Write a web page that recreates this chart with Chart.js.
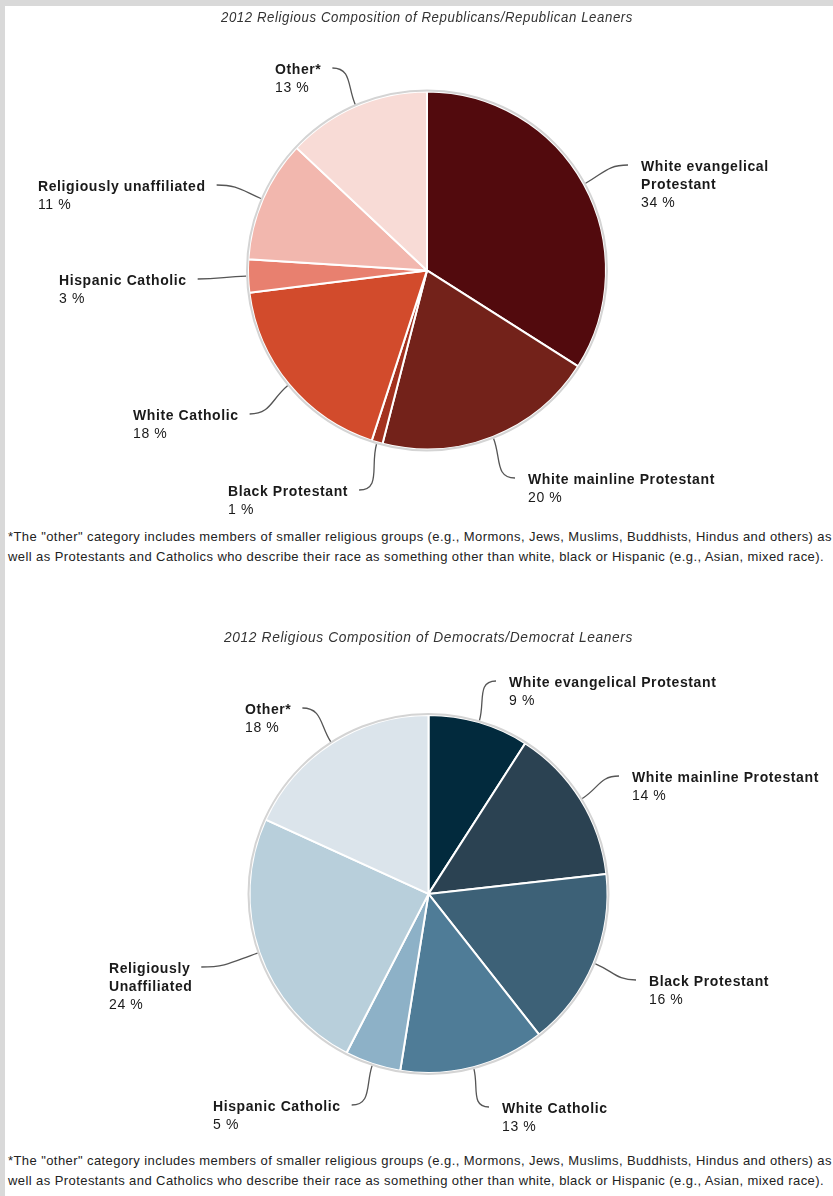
<!DOCTYPE html>
<html>
<head>
<meta charset="utf-8">
<script src="https://cdn.jsdelivr.net/npm/chart.js@4.4.1/dist/chart.umd.min.js"></script>
<style>
  html, body { margin: 0; padding: 0; }
  body {
    width: 833px; height: 1196px; position: relative; overflow: hidden;
    background: #d9d9d9;
    font-family: 'Liberation Sans', Arial, Helvetica, sans-serif;
  }
  .sheet { position: absolute; left: 5px; top: 6px; right: 0; bottom: 0; background: #fff; }
  .box { position: absolute; left: 0; width: 833px; height: 520px; }
  .note {
    position: absolute; left: 8px; font-size: 13px; letter-spacing: 0.42px;
    line-height: 20px; color: #222; white-space: nowrap;
  }
</style>
</head>
<body>
<div class="sheet"></div>

<div class="box" style="top:0"><canvas id="rep"></canvas></div>
<div class="note" style="top:527px">*The "other" category includes members of smaller religious groups (e.g., Mormons, Jews, Muslims, Buddhists, Hindus and others) as<br>well as Protestants and Catholics who describe their race as something other than white, black or Hispanic (e.g., Asian, mixed race).</div>

<div class="box" style="top:620px"><canvas id="dem"></canvas></div>
<div class="note" style="top:1151px">*The "other" category includes members of smaller religious groups (e.g., Mormons, Jews, Muslims, Buddhists, Hindus and others) as<br>well as Protestants and Catholics who describe their race as something other than white, black or Hispanic (e.g., Asian, mixed race).</div>

<script>
// categories (multi-line labels as arrays), shares in percent
const REP_LABELS = [
    ['White evangelical', 'Protestant'],
    ['White mainline Protestant'],
    ['Black Protestant'],
    ['White Catholic'],
    ['Hispanic Catholic'],
    ['Religiously unaffiliated'],
    ['Other*']
];
const REP_SHARES = [34, 20, 1, 18, 3, 11, 13];
const REP_COLORS = ['#520a0d', '#73221a', '#a3321f', '#d24b2c', '#e8806f', '#f2b7ae', '#f8dbd6'];

const DEM_LABELS = [
    ['White evangelical Protestant'],
    ['White mainline Protestant'],
    ['Black Protestant'],
    ['White Catholic'],
    ['Hispanic Catholic'],
    ['Religiously', 'Unaffiliated'],
    ['Other*']
];
const DEM_SHARES = [9, 14, 16, 13, 5, 24, 18];
const DEM_COLORS = ['#022a3d', '#2b4252', '#3d6177', '#4f7c97', '#8db1c7', '#b8cfdb', '#dbe4eb'];

// where each callout's text block starts (left x, first line y), canvas px
const REP_CALLOUTS = [[641, 167], [528, 480], [228, 492], [133, 416], [59, 281], [38, 187], [275, 70]];
const DEM_CALLOUTS = [[509, 63], [632, 158], [649, 362], [502, 489], [213, 487], [109, 349], [245, 90]];

const FONT = "'Liberation Sans', Arial, Helvetica, sans-serif";
const PIE_RADIUS = 179;

// wider tracking for every text drawn on the canvas (title included)
const trackingPlugin = {
    id: 'tracking',
    beforeDraw(chart) {
        chart.ctx.letterSpacing = '0.65px';
    }
};

// leader lines + labels drawn next to each slice
const calloutPlugin = {
    id: 'callouts',
    afterDatasetsDraw(chart, args, opts) {
        const ctx = chart.ctx;
        const meta = chart.getDatasetMeta(0);
        const values = chart.data.datasets[0].data;

        // thin grey rim around the pie
        const first = meta.data[0];
        ctx.save();
        ctx.letterSpacing = '0.6px';
        ctx.beginPath();
        ctx.arc(first.x, first.y, first.outerRadius + 1, 0, Math.PI * 2);
        ctx.strokeStyle = '#d4d4d4';
        ctx.lineWidth = 2;
        ctx.stroke();

        meta.data.forEach((arc, i) => {
            const lines = chart.data.labels[i];
            const [tx, ty] = opts.positions[i];
            const mid = (arc.startAngle + arc.endAngle) / 2;
            const r = arc.outerRadius + 2;
            const p0 = { x: arc.x + Math.cos(mid) * r, y: arc.y + Math.sin(mid) * r };

            ctx.font = 'bold 14px ' + FONT;
            const onRight = tx > arc.x;
            const w = ctx.measureText(lines[0]).width;
            const end = { x: onRight ? tx - 13 : tx + w + 11, y: ty - 2 };

            const dist = Math.hypot(end.x - p0.x, end.y - p0.y);
            const c1 = { x: p0.x + Math.cos(mid) * dist * 0.45, y: p0.y + Math.sin(mid) * dist * 0.45 };
            const c2 = { x: end.x + (onRight ? -1 : 1) * dist * 0.45, y: end.y };

            ctx.beginPath();
            ctx.moveTo(p0.x, p0.y);
            ctx.bezierCurveTo(c1.x, c1.y, c2.x, c2.y, end.x, end.y);
            ctx.strokeStyle = '#555';
            ctx.lineWidth = 1.3;
            ctx.stroke();

            ctx.fillStyle = '#1a1a1a';
            ctx.textAlign = 'left';
            ctx.textBaseline = 'middle';
            lines.forEach((ln, k) => ctx.fillText(ln, tx, ty + k * 18));
            ctx.font = '14px ' + FONT;
            ctx.fillText(values[i] + ' %', tx, ty + lines.length * 18);
        });
        ctx.restore();
    }
};

function makePie(id, title, labels, shares, colors, callouts, pad) {
    return new Chart(document.getElementById(id), {
        type: 'pie',
        data: {
            labels: labels,
            datasets: [{
                data: shares,
                backgroundColor: colors,
                borderColor: '#ffffff',
                borderWidth: 2,
                radius: PIE_RADIUS
            }]
        },
        options: {
            responsive: true,
            maintainAspectRatio: false,
            animation: false,
            layout: { padding: pad },
            plugins: {
                legend: { display: false },
                tooltip: { enabled: false },
                title: {
                    display: true,
                    text: title,
                    color: '#333',
                    font: { family: FONT, size: 14.5, style: 'italic', weight: 'normal' },
                    padding: { top: 9, bottom: 19 }
                },
                callouts: { positions: callouts }
            }
        },
        plugins: [trackingPlugin, calloutPlugin]
    });
}

makePie('rep', '2012 Religious Composition of Republicans/Republican Leaners',
    REP_LABELS, REP_SHARES, REP_COLORS, REP_CALLOUTS,
    { left: 221, right: 200, top: 0, bottom: 24.6 });

makePie('dem', '2012 Religious Composition of Democrats/Democrat Leaners',
    DEM_LABELS, DEM_SHARES, DEM_COLORS, DEM_CALLOUTS,
    { left: 224, right: 200, top: 0, bottom: 17.6 });
</script>
</body>
</html>
